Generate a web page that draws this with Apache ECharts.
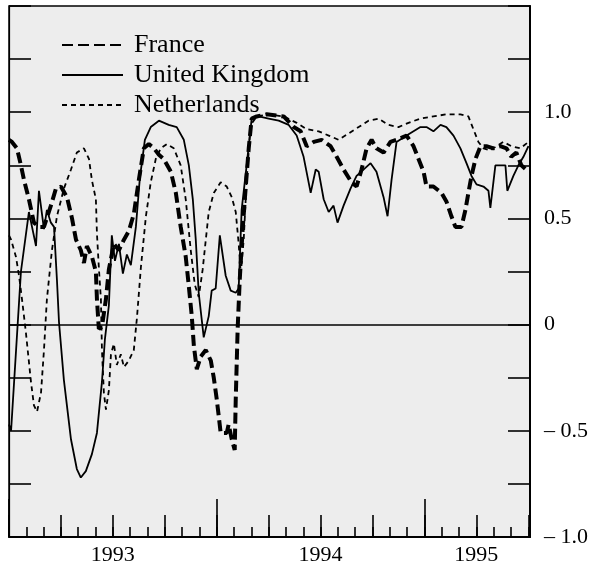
<!DOCTYPE html>
<html>
<head>
<meta charset="utf-8">
<script src="https://cdn.jsdelivr.net/npm/echarts@6/dist/echarts.min.js"></script>
<style>
html,body{margin:0;padding:0;background:#fff;}
#chart{width:599px;height:566px;}
</style>
</head>
<body>
<div id="chart"></div>
<script>
// x values: months since January 1993
const seriesNames = ['France', 'United Kingdom', 'Netherlands'];

const franceX = [0.00,0.17,0.46,0.69,0.87,1.15,1.44,1.73,2.02,2.42,2.71,3.00,3.35,3.64,3.87,4.15,4.33,4.50,4.79,5.02,
  5.08,5.19,5.37,5.60,5.77,6.06,6.35,6.64,6.92,7.21,7.50,7.79,8.08,8.37,8.66,8.94,9.35,9.64,9.92,10.21,
  10.39,10.56,10.68,10.85,11.08,11.37,11.66,11.83,12.00,12.23,12.58,12.69,12.87,13.04,13.10,13.21,13.33,13.50,13.67,13.85,
  14.02,14.31,14.89,15.87,16.45,16.85,17.20,17.60,18.06,18.58,18.93,19.33,19.79,20.08,20.37,20.66,20.95,21.23,21.64,22.04,
  22.39,22.97,23.37,23.66,23.95,24.12,24.52,24.99,25.27,25.56,25.79,26.14,26.37,26.54,26.72,26.95,27.24,27.58,27.99,28.39,
  28.74,29.02,29.31,29.60,30.01];
const franceY = [0.87,0.86,0.83,0.75,0.68,0.59,0.48,0.46,0.46,0.56,0.64,0.65,0.60,0.50,0.40,0.35,0.29,0.37,0.32,0.25,
  0.12,-0.02,-0.01,0.12,0.26,0.38,0.35,0.40,0.44,0.52,0.68,0.83,0.85,0.83,0.80,0.78,0.72,0.62,0.46,0.32,
  0.18,0.04,-0.10,-0.21,-0.15,-0.12,-0.17,-0.25,-0.35,-0.51,-0.51,-0.47,-0.54,-0.59,-0.35,-0.02,0.21,0.45,0.64,0.83,
  0.97,0.98,0.99,0.98,0.93,0.91,0.84,0.86,0.87,0.84,0.79,0.73,0.67,0.65,0.73,0.83,0.87,0.83,0.81,0.86,
  0.87,0.89,0.84,0.78,0.72,0.65,0.65,0.62,0.58,0.51,0.46,0.46,0.54,0.62,0.70,0.78,0.84,0.84,0.83,0.84,
  0.83,0.79,0.81,0.75,0.72];

const ukX = [0.00,0.12,0.69,1.15,1.33,1.56,1.73,2.02,2.19,2.42,2.60,2.77,2.89,3.17,3.58,3.92,4.15,4.44,4.79,5.08,
  5.37,5.54,5.77,5.94,6.12,6.35,6.58,6.81,7.04,7.33,7.56,7.85,8.19,8.66,9.23,9.69,10.10,10.39,10.62,10.79,
  10.96,11.25,11.54,11.71,11.94,12.18,12.52,12.81,13.10,13.27,13.44,13.73,14.02,14.43,15.00,15.58,16.16,16.62,17.02,17.43,
  17.72,17.89,18.18,18.47,18.75,18.98,19.33,19.73,20.08,20.48,20.89,21.23,21.64,21.87,22.10,22.39,22.97,23.37,23.77,24.12,
  24.52,24.93,25.27,25.68,26.08,26.43,26.72,27.01,27.41,27.70,27.81,28.10,28.39,28.68,28.79,29.14,29.43,29.72,30.01];
const ukY = [-0.47,-0.50,0.25,0.53,0.46,0.37,0.63,0.45,0.54,0.48,0.46,0.21,0.01,-0.26,-0.54,-0.68,-0.72,-0.69,-0.61,-0.51,
  -0.27,-0.07,0.09,0.42,0.30,0.38,0.24,0.33,0.28,0.46,0.69,0.87,0.93,0.96,0.94,0.93,0.87,0.75,0.59,0.40,
  0.15,-0.06,0.04,0.16,0.17,0.42,0.23,0.16,0.15,0.17,0.54,0.75,0.97,0.98,0.97,0.96,0.94,0.89,0.79,0.62,
  0.73,0.72,0.59,0.53,0.56,0.48,0.56,0.64,0.70,0.73,0.76,0.72,0.60,0.51,0.68,0.86,0.89,0.91,0.93,0.93,
  0.91,0.94,0.93,0.89,0.83,0.76,0.70,0.66,0.65,0.63,0.55,0.75,0.75,0.75,0.63,0.70,0.75,0.79,0.84];

const nethX = [0.00,0.12,0.40,0.58,0.75,0.98,1.27,1.44,1.62,1.85,2.02,2.19,2.48,2.77,3.17,3.58,3.92,4.33,4.62,4.79,
  5.02,5.08,5.19,5.31,5.37,5.48,5.60,5.77,5.89,6.06,6.23,6.46,6.64,6.92,7.21,7.39,7.62,7.91,8.19,8.48,
  8.77,9.12,9.52,9.92,10.21,10.50,10.73,10.96,11.19,11.37,11.54,11.83,12.23,12.58,12.87,13.10,13.27,13.39,13.56,13.73,
  13.96,14.31,15.00,15.87,16.62,17.20,17.89,18.47,19.04,19.62,20.20,20.77,21.35,21.93,22.50,23.08,23.77,24.52,25.27,26.08,
  26.54,26.83,27.12,27.41,27.81,28.16,28.56,29.02,29.54,30.01];
const nethY = [0.42,0.40,0.32,0.23,0.12,-0.04,-0.27,-0.38,-0.41,-0.32,-0.12,0.12,0.35,0.51,0.64,0.73,0.81,0.83,0.78,0.68,
  0.59,0.43,0.27,0.12,-0.12,-0.32,-0.40,-0.31,-0.14,-0.09,-0.19,-0.14,-0.20,-0.17,-0.12,0.03,0.27,0.51,0.67,0.78,
  0.83,0.85,0.83,0.75,0.59,0.35,0.19,0.13,0.26,0.40,0.53,0.62,0.67,0.65,0.60,0.53,0.38,0.24,0.40,0.68,
  0.94,0.98,0.99,0.98,0.95,0.92,0.91,0.89,0.87,0.90,0.93,0.96,0.97,0.94,0.93,0.95,0.97,0.98,0.99,0.99,
  0.98,0.92,0.86,0.83,0.82,0.84,0.86,0.84,0.83,0.86];

const yTickValues = [-1, -0.5, 0, 0.5, 1];
const yTickLabels = ['\u2013 1.0', '\u2013 0.5', '0', '0.5', '1.0'];
const xLabelPositions = [6, 18, 27];
const xLabels = ['1993', '1994', '1995'];

const pairs = (xs, ys) => xs.map((x, i) => [x, ys[i]]);
const FONT = '"Liberation Serif", "DejaVu Serif", serif';
const X_MIN = 0, X_MAX = 30.1;

function xAxisDef(interval, len, showLabel, showLine) {
  return {
    type: 'value', min: X_MIN, max: X_MAX, interval: interval, position: 'bottom',
    axisLine: { show: showLine, onZero: false, lineStyle: { color: '#000', width: 2 } },
    axisTick: { show: true, inside: true, length: len, lineStyle: { color: '#000', width: 1.6 } },
    axisLabel: {
      show: showLabel, margin: 7, color: '#000', fontFamily: FONT, fontSize: 22,
      formatter: v => { const i = xLabelPositions.findIndex(p => Math.abs(p - v) < 1e-6); return i >= 0 ? xLabels[i] : ''; }
    },
    splitLine: { show: false }
  };
}
function yAxisDef(pos, showLabel) {
  return {
    type: 'value', min: -1, max: 1.5, interval: 0.25, position: pos,
    axisLine: { show: true, onZero: false, lineStyle: { color: '#000', width: pos === 'right' ? 2 : 1.2 } },
    axisTick: { show: true, inside: true, length: 22, lineStyle: { color: '#000', width: 1.6 } },
    axisLabel: {
      show: showLabel, margin: 14, color: '#000', fontFamily: FONT, fontSize: 22,
      formatter: v => { const i = yTickValues.findIndex(p => Math.abs(p - v) < 1e-6); return i >= 0 ? yTickLabels[i] : ''; }
    },
    splitLine: { show: false }
  };
}

const chart = echarts.init(document.getElementById('chart'), null, { renderer: 'canvas' });
chart.setOption({
  backgroundColor: '#ffffff',
  animation: false,
  grid: { left: 9, right: 69, top: 6, bottom: 29, show: true, backgroundColor: '#ededed', borderColor: '#000', borderWidth: 1.5 },
  legend: {
    data: seriesNames, orient: 'vertical', left: 56, top: 27,
    itemWidth: 61, itemHeight: 14, itemGap: 4,
    itemStyle: { opacity: 0 },
    textStyle: { color: '#000', fontFamily: FONT, fontSize: 26, padding: [0, 0, 0, 6] }
  },
  xAxis: [xAxisDef(1, 10, true, true), xAxisDef(3, 22, false, false), xAxisDef(12, 38, false, false)],
  yAxis: [yAxisDef('right', true), yAxisDef('left', false)],
  series: [
    { name: seriesNames[0], type: 'line', xAxisIndex: 0, yAxisIndex: 0, symbol: 'none', z: 4,
      data: pairs(franceX, franceY), itemStyle: { color: '#000' },
      lineStyle: { color: '#000', width: 4, type: [11, 5] } },
    { name: seriesNames[1], type: 'line', xAxisIndex: 0, yAxisIndex: 0, symbol: 'none', z: 3,
      data: pairs(ukX, ukY), itemStyle: { color: '#000' },
      lineStyle: { color: '#000', width: 1.8, type: 'solid' },
      markLine: { silent: true, symbol: ['none', 'none'], label: { show: false },
        lineStyle: { color: '#000', width: 1.5, type: 'solid' }, data: [{ yAxis: 0 }] } },
    { name: seriesNames[2], type: 'line', xAxisIndex: 0, yAxisIndex: 0, symbol: 'none', z: 2,
      data: pairs(nethX, nethY), itemStyle: { color: '#000' },
      lineStyle: { color: '#000', width: 1.8, type: [5, 4] } }
  ]
});
</script>
</body>
</html>
